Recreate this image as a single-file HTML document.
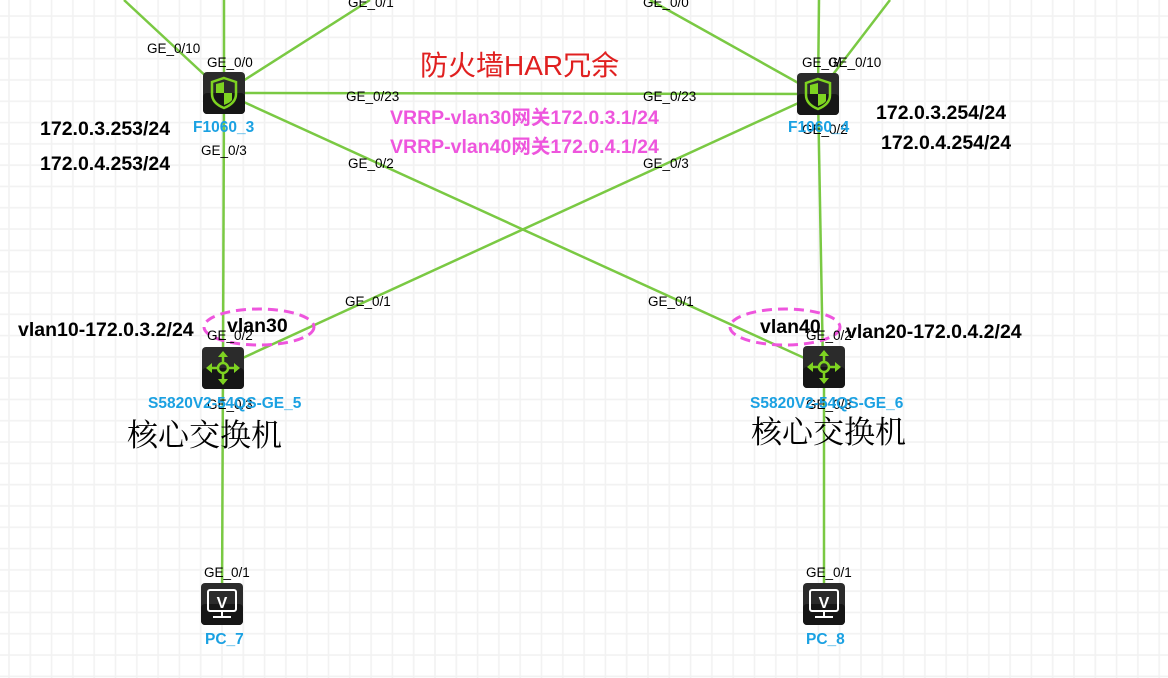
<!DOCTYPE html>
<html><head><meta charset="utf-8"><style>
html,body{margin:0;padding:0;background:#fff;}
svg{display:block;font-family:"Liberation Sans","Noto Sans CJK SC",sans-serif;}
</style></head><body>
<svg width="1168" height="678" viewBox="0 0 1168 678" xmlns="http://www.w3.org/2000/svg">
<defs>
<pattern id="g" x="8" y="15" width="21.3" height="21.3" patternUnits="userSpaceOnUse">
<path d="M1 0V21.3M0 1H21.3" stroke="#f2f2f2" stroke-width="1.6" fill="none"/>
</pattern>
<g id="fw"><rect x="0" y="0" width="42" height="42" rx="4" fill="#2b2b2b"/><rect x="0" y="21" width="42" height="21" rx="4" fill="#161616"/>
<path d="M21 6 L33 10 V22 C33 30 26 34 21 36 C16 34 9 30 9 22 V10 Z" fill="none" stroke="#7ed321" stroke-width="2.5"/>
<path d="M21 10 V21 H13 V12 Z M21 21 H29 V28 C27 31 23 32 21 33 Z" fill="#7ed321"/></g>
<g id="sw"><rect x="0" y="0" width="42" height="42" rx="4" fill="#2b2b2b"/><rect x="0" y="21" width="42" height="21" rx="4" fill="#161616"/>
<circle cx="21" cy="21" r="5" fill="none" stroke="#7ed321" stroke-width="2.5"/>
<path d="M21 7V15M21 27V35M7 21H15M27 21H35" stroke="#7ed321" stroke-width="2.5"/>
<path d="M21 4L16 10H26ZM21 38L16 32H26ZM4 21L10 16V26ZM38 21L32 16V26Z" fill="#7ed321"/></g>
<g id="pc"><rect x="0" y="0" width="42" height="42" rx="4" fill="#2b2b2b"/><rect x="0" y="21" width="42" height="21" rx="4" fill="#161616"/>
<rect x="7" y="7" width="28" height="21" rx="2" fill="none" stroke="#fff" stroke-width="2"/>
<text x="21" y="25" font-size="16" font-weight="bold" fill="#fff" text-anchor="middle">V</text>
<path d="M21 28V33M12 34H30" stroke="#fff" stroke-width="2"/></g>
</defs>
<rect width="1168" height="678" fill="url(#g)"/>
<g stroke="#7ac943" stroke-width="2.5" fill="none">
<line x1="124" y1="0" x2="224" y2="93"/>
<line x1="224" y1="0" x2="224" y2="93"/>
<line x1="370" y1="0" x2="224" y2="93"/>
<line x1="224" y1="93" x2="818" y2="94"/>
<line x1="224" y1="93" x2="824" y2="367"/>
<line x1="818" y1="94" x2="223" y2="367"/>
<line x1="224" y1="93" x2="223" y2="367"/>
<line x1="223" y1="367" x2="222" y2="604"/>
<line x1="650" y1="0" x2="818" y2="94"/>
<line x1="819" y1="0" x2="818" y2="94"/>
<line x1="890" y1="0" x2="818" y2="94"/>
<line x1="818" y1="94" x2="823" y2="367"/>
<line x1="824" y1="367" x2="824" y2="604"/>
</g>
<ellipse cx="259" cy="327" rx="55" ry="18" fill="none" stroke="#ee55dd" stroke-width="3" stroke-dasharray="10,6"/>
<ellipse cx="785" cy="327" rx="55" ry="18" fill="none" stroke="#ee55dd" stroke-width="3" stroke-dasharray="10,6"/>
<use href="#fw" x="203" y="72"/>
<use href="#fw" x="797" y="73"/>
<use href="#sw" x="202" y="347"/>
<use href="#sw" x="803" y="346"/>
<use href="#pc" x="201" y="583"/>
<use href="#pc" x="803" y="583"/>
<g font-size="13.5" fill="#000">
<text x="348" y="7">GE_0/1</text>
<text x="147" y="53">GE_0/10</text>
<text x="207" y="67">GE_0/0</text>
<text x="346" y="101">GE_0/23</text>
<text x="201" y="155">GE_0/3</text>
<text x="348" y="168">GE_0/2</text>
<text x="643" y="7">GE_0/0</text>
<text x="802" y="67">GE_0/</text>
<text x="828" y="67">GE_0/10</text>
<text x="643" y="101">GE_0/23</text>
<text x="802" y="134">GE_0/2</text>
<text x="643" y="168">GE_0/3</text>
<text x="345" y="306">GE_0/1</text>
<text x="648" y="306">GE_0/1</text>
<text x="207" y="340">GE_0/2</text>
<text x="806" y="340">GE_0/2</text>
<text x="207" y="409">GE_0/3</text>
<text x="806" y="409">GE_0/3</text>
<text x="204" y="577">GE_0/1</text>
<text x="806" y="577">GE_0/1</text>
</g>
<g font-size="15.5" font-weight="bold" fill="#1ba1e2">
<text x="193" y="132">F1060_3</text>
<text x="788" y="132">F1060_4</text>
<text x="148" y="408">S5820V2-54QS-GE_5</text>
<text x="750" y="408">S5820V2-54QS-GE_6</text>
<text x="205" y="644">PC_7</text>
<text x="806" y="644">PC_8</text>
</g>
<text x="420" y="75" font-size="28" fill="#e02020">防火墙HAR冗余</text>
<g font-size="19.5" font-weight="bold" fill="#ee55dd">
<text x="390" y="124">VRRP-vlan30网关172.0.3.1/24</text>
<text x="390" y="153">VRRP-vlan40网关172.0.4.1/24</text>
</g>
<g font-size="19.5" font-weight="bold" fill="#000">
<text x="40" y="135">172.0.3.253/24</text>
<text x="40" y="170">172.0.4.253/24</text>
<text x="876" y="119">172.0.3.254/24</text>
<text x="881" y="149">172.0.4.254/24</text>
<text x="18" y="336">vlan10-172.0.3.2/24</text>
<text x="227" y="332">vlan30</text>
<text x="760" y="333">vlan40</text>
<text x="846" y="338">vlan20-172.0.4.2/24</text>
</g>
<g font-size="31" fill="#000" font-family="'Noto Serif CJK SC','Noto Sans CJK SC',serif">
<text x="127" y="446">核心交换机</text>
<text x="751" y="443">核心交换机</text>
</g>
</svg>
</body></html>
